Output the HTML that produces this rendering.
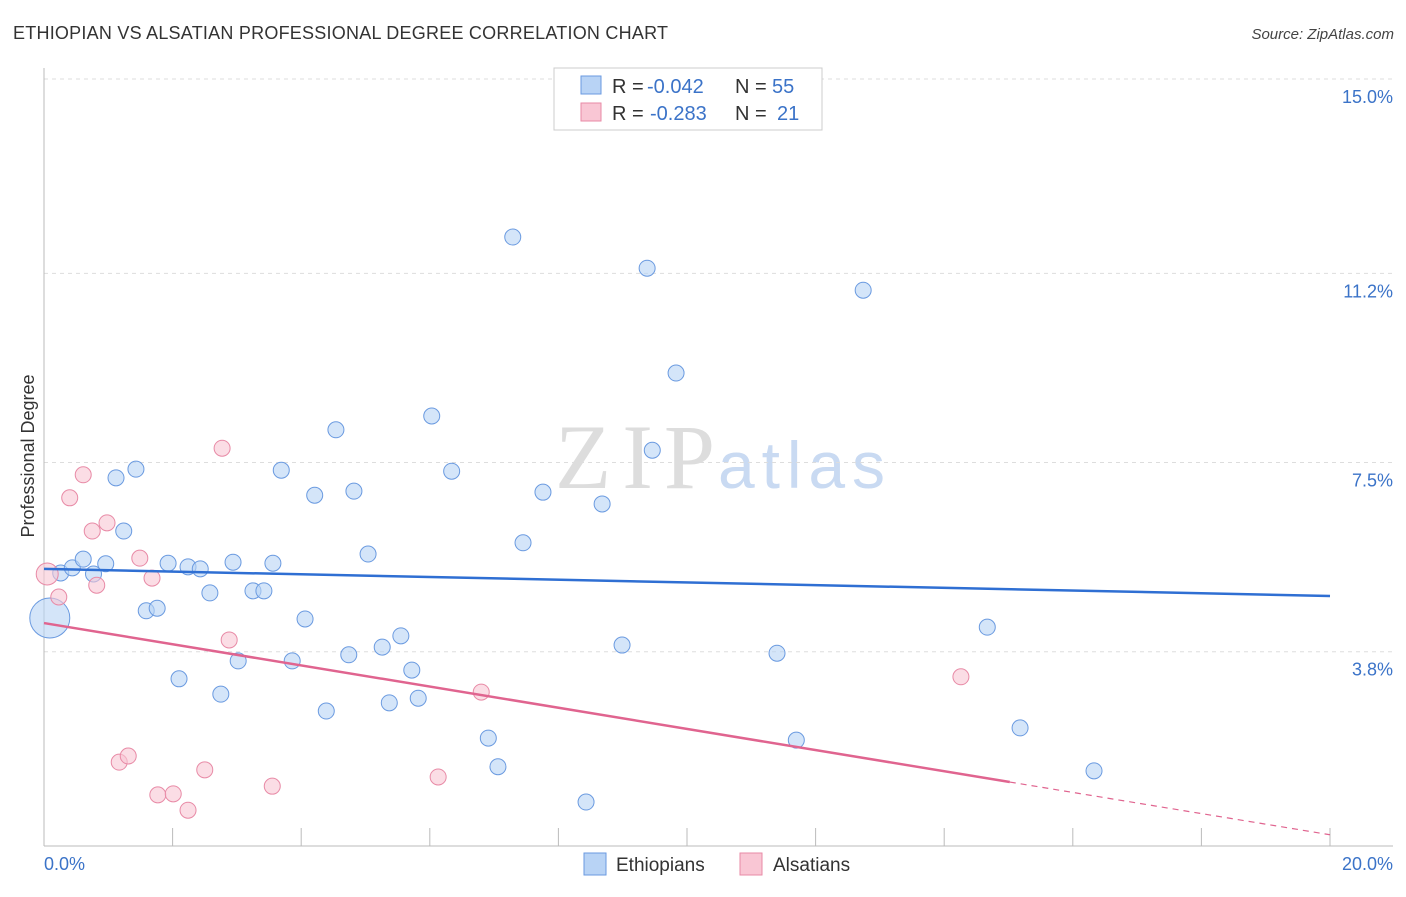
<!DOCTYPE html>
<html><head><meta charset="utf-8"><style>
body{margin:0;background:#fff;font-family:"Liberation Sans",sans-serif}
</style></head><body>
<svg width="1406" height="892" xmlns="http://www.w3.org/2000/svg" font-family="Liberation Sans, sans-serif">
<text x="13" y="39" font-size="18" fill="#333" textLength="655">ETHIOPIAN VS ALSATIAN PROFESSIONAL DEGREE CORRELATION CHART</text>
<text x="1394" y="39" font-size="15" fill="#444" text-anchor="end" font-style="italic">Source: ZipAtlas.com</text>
<g>
<text x="555" y="488" font-size="92" fill="#ddd" textLength="160" font-family="Liberation Serif, serif">ZIP</text>
<text x="718" y="488" font-size="66" fill="#c9daf2" textLength="167">atlas</text>
</g>
<g id="grid"></g>
<g id="axes"></g>
<g id="marks"></g>
<text transform="translate(34,456) rotate(-90)" font-size="18" fill="#333" text-anchor="middle">Professional Degree</text>
<g>
<rect x="554" y="68" width="268" height="62" fill="#fff" stroke="#ccc"/>
<rect x="581" y="76" width="20" height="18" fill="#b8d3f5" stroke="#6a9ae0"/>
<rect x="581" y="103" width="20" height="18" fill="#f9c6d4" stroke="#e88aa6"/>
<text x="612" y="93" font-size="20" fill="#333">R =</text>
<text x="647" y="93" font-size="20" fill="#3b73c8">-0.042</text>
<text x="735" y="93" font-size="20" fill="#333">N =</text>
<text x="772" y="93" font-size="20" fill="#3b73c8">55</text>
<text x="612" y="120" font-size="20" fill="#333">R =</text>
<text x="650" y="120" font-size="20" fill="#3b73c8">-0.283</text>
<text x="735" y="120" font-size="20" fill="#333">N =</text>
<text x="777" y="120" font-size="20" fill="#3b73c8">21</text>
</g>
<g>
<rect x="584" y="853" width="22" height="22" fill="#b8d3f5" stroke="#6a9ae0"/>
<text x="616" y="871" font-size="19" fill="#333">Ethiopians</text>
<rect x="740" y="853" width="22" height="22" fill="#f9c6d4" stroke="#e88aa6"/>
<text x="773" y="871" font-size="19" fill="#333">Alsatians</text>
</g>
</svg>
<script>
const yTicks=[15.0,11.2,7.5,3.8];
const yTickLabels=["15.0%","11.2%","7.5%","3.8%"];
const xTickLabels=["0.0%","20.0%"];
const blueX=[0.09,0.26,0.44,0.61,0.77,0.96,1.12,1.24,1.43,1.59,1.76,1.93,2.10,2.24,2.43,2.58,2.75,2.94,3.02,3.25,3.42,3.56,3.69,3.86,4.06,4.21,4.39,4.54,4.74,4.82,5.04,5.26,5.37,5.55,5.72,5.82,6.03,6.34,6.91,7.06,7.29,7.45,7.76,8.43,8.68,8.99,9.38,9.46,9.83,11.40,11.70,12.74,14.67,15.18,16.33];
const blueY=[4.46,5.34,5.44,5.61,5.32,5.52,7.20,6.16,7.37,4.60,4.65,5.53,3.27,5.46,5.42,4.95,2.97,5.55,3.62,4.99,4.99,5.53,7.35,3.62,4.44,6.86,2.64,8.14,3.74,6.94,5.71,3.89,2.80,4.11,3.44,2.89,8.41,7.33,2.11,1.55,11.91,5.93,6.92,0.86,6.69,3.93,11.30,7.74,9.25,3.77,2.07,10.87,4.28,2.31,1.47];
const pinkX=[0.05,0.23,0.40,0.61,0.75,0.82,0.98,1.17,1.31,1.49,1.68,1.77,2.01,2.24,2.50,2.77,2.88,3.55,6.13,6.80,14.26];
const pinkY=[5.32,4.87,6.81,7.26,6.16,5.10,6.32,1.64,1.76,5.63,5.24,1.00,1.02,0.70,1.49,7.78,4.03,1.17,1.35,3.01,3.31];
const blueTrend=[5.42,4.89];
const pinkTrend=[4.36,0.22];
const pinkSolidEnd=15.02;
const NS="http://www.w3.org/2000/svg";
const X=v=>44+v*64.3, Y=v=>846-v*51.13;
function mk(tag,attrs,parent){const e=document.createElementNS(NS,tag);for(const k in attrs)e.setAttribute(k,attrs[k]);document.getElementById(parent).appendChild(e);return e;}
yTicks.forEach((t,i)=>{
 const g=mk('line',{x1:44,x2:1393,y1:Y(t),y2:Y(t),stroke:'#ddd','stroke-dasharray':'4,4'},'grid');
 
 const l=mk('text',{x:1393,y:Y(t)+24,'font-size':18,fill:'#3b73c8','text-anchor':'end'},'axes');
 l.textContent=yTickLabels[i];
 
});
let a=mk('line',{x1:44,x2:44,y1:68,y2:846,stroke:'#bbb'},'axes');

a=mk('line',{x1:44,x2:1393,y1:846,y2:846,stroke:'#bbb'},'axes');

for(let i=0;i<=10;i++){const t=mk('line',{x1:X(i*2),x2:X(i*2),y1:828,y2:846,stroke:'#bbb'},'axes');
 }
[[0,'start',44],[20,'end',1393]].forEach((d,i)=>{const l=mk('text',{x:d[2],y:870,'font-size':18,fill:'#3b73c8','text-anchor':d[1]},'axes');l.textContent=xTickLabels[i];
 });
blueX.forEach((x,i)=>{const r=i===0?20:8;const c=mk('circle',{cx:X(x),cy:Y(blueY[i]),r:r,fill:'rgba(184,211,245,0.6)',stroke:'#6a9ae0','stroke-width':1},'marks');
 });
pinkX.forEach((x,i)=>{const r=i===0?11:8;const c=mk('circle',{cx:X(x),cy:Y(pinkY[i]),r:r,fill:'rgba(249,198,212,0.6)',stroke:'#e88aa6','stroke-width':1},'marks');
 });
let t=mk('line',{x1:X(0),y1:Y(blueTrend[0]),x2:X(20),y2:Y(blueTrend[1]),stroke:'#2f6fd3','stroke-width':2.5},'marks');

const pm=pinkTrend[0]+(pinkTrend[1]-pinkTrend[0])*pinkSolidEnd/20;
t=mk('line',{x1:X(0),y1:Y(pinkTrend[0]),x2:X(pinkSolidEnd),y2:Y(pm),stroke:'#e0648f','stroke-width':2.5},'marks');

t=mk('line',{x1:X(pinkSolidEnd),y1:Y(pm),x2:X(20),y2:Y(pinkTrend[1]),stroke:'#e0648f','stroke-width':1.2,'stroke-dasharray':'6,5'},'marks');

</script>
</body></html>
